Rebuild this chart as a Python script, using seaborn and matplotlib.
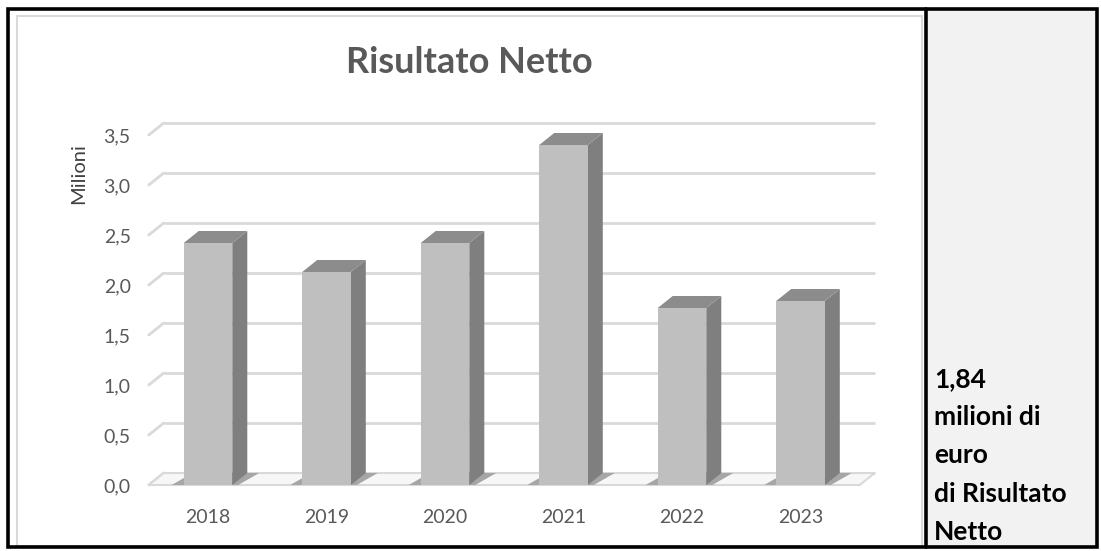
import matplotlib
matplotlib.use("Agg")
import matplotlib.pyplot as plt
import seaborn as sns
import pandas as pd
from matplotlib.patches import Polygon, Rectangle
from matplotlib.lines import Line2D

# ---- data ----
years = ["2018", "2019", "2020", "2021", "2022", "2023"]
values = [2.42, 2.13, 2.42, 3.40, 1.77, 1.84]
yticks = [0.0, 0.5, 1.0, 1.5, 2.0, 2.5, 3.0, 3.5]
ytick_labels = ["0,0", "0,5", "1,0", "1,5", "2,0", "2,5", "3,0", "3,5"]
title = "Risultato Netto"
ylabel = "Milioni"
side_lines = ["1,84", "milioni di", "euro", "di Risultato", "Netto"]

W, H = 1101, 551
sns.set_theme(style="white")
plt.rcParams['font.family'] = ['Lato', 'DejaVu Sans']

fig = plt.figure(figsize=(W / 100, H / 100), dpi=100)
fig.patch.set_facecolor("white")

def fx(x):
    return x / W

def fy(y):
    return 1 - y / H

# ---- frame / table ----
fig.add_artist(Rectangle((fx(926), fy(547)), fx(1098) - fx(926), fy(8) - fy(547),
                         transform=fig.transFigure, facecolor="#f2f2f2", edgecolor="none", zorder=0))
fig.add_artist(Rectangle((fx(17), fy(546)), fx(922) - fx(17), fy(16) - fy(546),
                         transform=fig.transFigure, facecolor="white", edgecolor="#d9d9d9",
                         linewidth=1.5, zorder=0))
fig.add_artist(Rectangle((fx(8), fy(547)), fx(1097) - fx(8), fy(9) - fy(547),
                         transform=fig.transFigure, facecolor="none", edgecolor="black",
                         linewidth=2.6, zorder=10))
fig.add_artist(Line2D([fx(926), fx(926)], [fy(9), fy(547)], transform=fig.transFigure,
                      color="black", linewidth=2.6, zorder=10))

# ---- axes ----
ax_left, ax_right = 148.75, 859.75
ax_bottom, ax_top = 485, 135
ax = fig.add_axes([fx(ax_left), fy(ax_bottom), fx(ax_right - ax_left), (ax_bottom - ax_top) / H])
ax.set_facecolor("none")

df = pd.DataFrame({"year": years, "value": values})
sns.barplot(data=df, x="year", y="value", color="#bfbfbf", saturation=1, width=0.41,
            ax=ax, zorder=3, edgecolor="none")
ax.set_xlim(-0.5, 5.5)
ax.set_ylim(0, 3.5)
for s in ax.spines.values():
    s.set_visible(False)
ax.set_xlabel("")
ax.set_ylabel("")
ax.set_yticks(yticks)
ax.set_yticklabels(ytick_labels)
ax.tick_params(axis="y", length=0, pad=13, labelsize=14, labelcolor="#595959")
ax.tick_params(axis="x", length=0, pad=17, labelsize=14, labelcolor="#595959")

# pixel -> data offsets for the 3D depth
p0 = ax.transData.transform((0, 0))
dpx, dpy = 15, 12
d = ax.transData.inverted().transform((p0[0] + dpx, p0[1] + dpy))
ddx, ddy = d[0], d[1]
u = ax.transData.inverted().transform((p0[0] + 1, p0[1] + 1))
ux, uy = u[0], u[1]

x0, x1 = -0.5, 5.5
# back wall gridlines with side-wall diagonal
for t in yticks:
    ax.plot([x0 + ddx, x1 + ddx], [t + ddy, t + ddy], color="#d9d9d9", lw=2, zorder=0.5,
            clip_on=False, solid_capstyle="butt")
    ax.plot([x0, x0 + ddx], [t, t + ddy], color="#d9d9d9", lw=2, zorder=0.5, clip_on=False)

# floor
ax.add_patch(Polygon([(x0, 0), (x1, 0), (x1 + ddx, ddy), (x0 + ddx, ddy)], closed=True,
                     facecolor="#f7f7f7", edgecolor="#d9d9d9", lw=1.5, zorder=0.8, clip_on=False))

# 3D faces from seaborn bars
bars = [p for p in ax.patches if isinstance(p, matplotlib.patches.Rectangle)][:len(values)]
for bar in bars:
    bx0 = bar.get_x()
    bx1 = bx0 + bar.get_width()
    h = bar.get_height()
    # floor shadow
    ax.add_patch(Polygon([(bx0 - 12 * ux, 0), (bx1 + 6 * ux, 0), (bx1 + ddx + 12 * ux, ddy),
                          (bx0 + ddx - 6 * ux, ddy)], closed=True, facecolor="#a6a6a6",
                         edgecolor="none", zorder=1, clip_on=False))
    # side
    ax.add_patch(Polygon([(bx1, 0), (bx1 + ddx, ddy), (bx1 + ddx, h + ddy), (bx1, h)], closed=True,
                         facecolor="#7f7f7f", edgecolor="none", zorder=2, clip_on=False))
    # top
    ax.add_patch(Polygon([(bx0, h), (bx1, h), (bx1 + ddx, h + ddy), (bx0 + ddx, h + ddy)], closed=True,
                         facecolor="#8c8c8c", edgecolor="none", zorder=2, clip_on=False))

# ---- texts ----
fig.text(fx(469), fy(73), title, ha="center", va="baseline", fontsize=26, fontweight="bold",
         color="#595959")
fig.text(fx(79), fy(174), ylabel, ha="center", va="center", rotation=90, fontsize=14.5,
         color="#404040")

baselines = [387, 425, 463, 502, 540]
for s, yy in zip(side_lines, baselines):
    fig.text(fx(934), fy(yy), s, ha="left", va="baseline", fontsize=19, fontweight="bold",
             color="black")

fig.savefig("out.png", dpi=100)
